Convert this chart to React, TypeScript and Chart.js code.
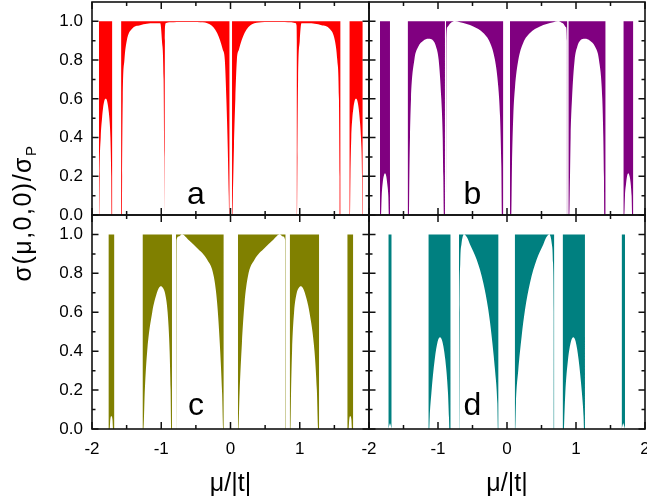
import React, { useEffect, useRef } from 'react';
import { Chart, registerables } from 'chart.js';
Chart.register(...registerables);

const W = 647;
const H = 503;
const FONT = '"Liberation Sans", Arial, sans-serif';

// ---------- data (lower boundary of the filled region; filled up to 1.0) ----------
const aMu = [
  -1.900, -1.893, -1.889, -1.874, -1.855, -1.841, -1.822, -1.802, -1.783, -1.764, -1.749, -1.734, -1.722, -1.716, -1.706,
  -1.65,
  -1.580, -1.568, -1.565, -1.556, -1.532, -1.498, -1.425, -1.305, -1.111, -1.014, -0.990, -0.966, -0.957, -0.953, -0.950,
  -0.947, -0.943, -0.935, -0.870, -0.773, -0.531, -0.435, -0.300, -0.193, -0.111, -0.082, -0.060, -0.040, -0.025, -0.018, -0.012,
  0.005,
  0.022, 0.028, 0.035, 0.050, 0.070, 0.092, 0.121, 0.203, 0.310, 0.445, 0.541, 0.783, 0.880, 0.945, 0.953, 0.957,
  0.960, 0.963, 0.967, 0.976, 1.000, 1.024, 1.121, 1.315, 1.435, 1.508, 1.542, 1.566, 1.575, 1.578, 1.590,
  1.65,
  1.716, 1.726, 1.732, 1.744, 1.759, 1.774, 1.793, 1.812, 1.832, 1.851, 1.865, 1.884, 1.899, 1.903, 1.910,
];
const aSigma = [
  0, 0, 0.2, 0.4, 0.5, 0.55, 0.59, 0.6, 0.59, 0.55, 0.5, 0.4, 0.2, 0, 0,
  null,
  0, 0, 0.2, 0.6, 0.8, 0.9, 0.96, 0.98, 0.99, 0.99, 0.9, 0.7, 0.3, 0, 0,
  0.9, 0.98, 0.99, 0.995, 0.997, 0.997, 0.996, 0.985, 0.94, 0.854, 0.8, 0.6, 0.35, 0.1, 0, 0,
  null,
  0, 0, 0.1, 0.35, 0.6, 0.8, 0.854, 0.94, 0.985, 0.996, 0.997, 0.997, 0.995, 0.99, 0.98, 0.9,
  0, 0, 0.3, 0.7, 0.9, 0.99, 0.99, 0.98, 0.96, 0.9, 0.8, 0.6, 0.2, 0, 0,
  null,
  0, 0, 0.2, 0.4, 0.5, 0.55, 0.59, 0.6, 0.59, 0.55, 0.5, 0.4, 0.2, 0, 0,
];

const bMu = [
  -1.841, -1.826, -1.816, -1.800, -1.787, -1.768, -1.750, -1.735, -1.720, -1.710, -1.696,
  -1.55,
  -1.440, -1.420, -1.415, -1.406, -1.391, -1.343, -1.285, -1.213, -1.140, -1.068, -1.029, -0.990, -0.952, -0.932, -0.923, -0.913, -0.899,
  -0.89,
  -0.885, -0.881, -0.878, -0.865, -0.820, -0.754, -0.681, -0.488, -0.343, -0.246, -0.174, -0.126, -0.101, -0.082, -0.072, -0.053,
  -0.005,
  0.043, 0.062, 0.072, 0.091, 0.116, 0.164, 0.236, 0.333, 0.478, 0.671, 0.744, 0.810, 0.855, 0.868, 0.871, 0.875,
  0.88,
  0.889, 0.903, 0.913, 0.922, 0.942, 0.980, 1.019, 1.058, 1.130, 1.203, 1.275, 1.333, 1.381, 1.396, 1.405, 1.410, 1.430,
  1.55,
  1.686, 1.700, 1.710, 1.725, 1.740, 1.758, 1.777, 1.790, 1.806, 1.816, 1.831,
];
const bSigma = [
  0, 0, 0.1, 0.17, 0.2, 0.215, 0.2, 0.16, 0.1, 0, 0,
  null,
  0, 0, 0.2, 0.4, 0.6, 0.8, 0.87, 0.9, 0.91, 0.9, 0.87, 0.8, 0.6, 0.4, 0.2, 0, 0,
  null,
  0, 0, 0.9, 0.97, 0.99, 1.0, 0.995, 0.974, 0.94, 0.89, 0.80, 0.66, 0.51, 0.25, 0, 0,
  null,
  0, 0, 0.25, 0.51, 0.66, 0.80, 0.89, 0.94, 0.974, 0.995, 1.0, 0.99, 0.97, 0.9, 0, 0,
  null,
  0, 0, 0.2, 0.4, 0.6, 0.8, 0.87, 0.9, 0.91, 0.9, 0.87, 0.8, 0.6, 0.4, 0.2, 0, 0,
  null,
  0, 0, 0.1, 0.16, 0.2, 0.215, 0.2, 0.17, 0.1, 0, 0,
];

const cMu = [
  -1.763, -1.745, -1.735, -1.720, -1.705, -1.695, -1.676,
  -1.5,
  -1.271, -1.256, -1.237, -1.203, -1.130, -1.063, -1.035, -1.005, -0.975, -0.947, -0.908, -0.879, -0.865, -0.855, -0.845,
  -0.82,
  -0.787, -0.782, -0.779, -0.750, -0.700, -0.600, -0.483, -0.338, -0.242, -0.193, -0.155, -0.121, -0.106, -0.097,
  0.005,
  0.107, 0.116, 0.131, 0.165, 0.203, 0.252, 0.348, 0.493, 0.610, 0.710, 0.760, 0.789, 0.792, 0.797,
  0.83,
  0.855, 0.865, 0.875, 0.889, 0.918, 0.957, 0.985, 1.015, 1.045, 1.073, 1.140, 1.213, 1.247, 1.266, 1.281,
  1.5,
  1.686, 1.705, 1.715, 1.730, 1.745, 1.755, 1.773,
];
const cSigma = [
  0, 0, 0.05, 0.065, 0.05, 0, 0,
  null,
  0, 0, 0.2, 0.4, 0.6, 0.7, 0.725, 0.734, 0.725, 0.7, 0.6, 0.4, 0.2, 0, 0,
  null,
  0, 0, 0.97, 0.99, 1.0, 0.97, 0.931, 0.871, 0.785, 0.648, 0.442, 0.184, 0, 0,
  null,
  0, 0, 0.184, 0.442, 0.648, 0.785, 0.871, 0.931, 0.97, 1.0, 0.99, 0.97, 0, 0,
  null,
  0, 0, 0.2, 0.4, 0.6, 0.7, 0.725, 0.734, 0.725, 0.7, 0.6, 0.4, 0.2, 0, 0,
  null,
  0, 0, 0.05, 0.065, 0.05, 0, 0,
];

const dMu = [
  -1.720, -1.705, -1.696, -1.686, -1.671,
  -1.4,
  -1.140, -1.126, -1.120, -1.096, -1.048, -1.005, -0.971, -0.937, -0.894, -0.855, -0.841, -0.834, -0.816,
  -0.75,
  -0.696, -0.690, -0.686, -0.678, -0.660, -0.623, -0.580, -0.536, -0.440, -0.343, -0.271, -0.222, -0.174, -0.140, -0.130, -0.122,
  -0.005,
  0.112, 0.120, 0.130, 0.164, 0.212, 0.261, 0.333, 0.430, 0.526, 0.570, 0.613, 0.650, 0.668, 0.676, 0.680, 0.686,
  0.75,
  0.806, 0.824, 0.831, 0.845, 0.884, 0.927, 0.961, 0.995, 1.038, 1.086, 1.110, 1.116, 1.130,
  1.4,
  1.661, 1.676, 1.686, 1.695, 1.710,
];
const dSigma = [
  0, 0.02, 0.03, 0.02, 0,
  null,
  0, 0, 0.06, 0.184, 0.356, 0.45, 0.471, 0.45, 0.356, 0.184, 0.06, 0, 0,
  null,
  0, 0, 0.6, 0.85, 0.95, 1.0, 0.985, 0.948, 0.871, 0.751, 0.613, 0.476, 0.304, 0.132, 0, 0,
  null,
  0, 0, 0.132, 0.304, 0.476, 0.613, 0.751, 0.871, 0.948, 0.985, 1.0, 0.95, 0.85, 0.6, 0, 0,
  null,
  0, 0, 0.06, 0.184, 0.356, 0.45, 0.471, 0.45, 0.356, 0.184, 0.06, 0, 0,
  null,
  0, 0.02, 0.03, 0.02, 0,
];

const xTickValues = [-2, -1, 0, 1, 2];
const xMinorValues = [-1.5, -0.5, 0.5, 1.5];
const xLabelsLeft = ['-2', '-1', '0', '1', ''];
const xLabelsRight = ['-2', '-1', '0', '1', '2'];
const yTickValues = [0, 0.2, 0.4, 0.6, 0.8, 1.0];
const yTickLabels = ['0.0', '0.2', '0.4', '0.6', '0.8', '1.0'];
const yMinorValues = [0.1, 0.3, 0.5, 0.7, 0.9];
const panelLetters = ['a', 'b', 'c', 'd'];
const panelColors = ['#ff0000', '#800080', '#808000', '#008080'];
const xTitle = 'μ/|t|';
const yTitleMain = 'σ(μ,0,0)/σ';
const yTitleSub = 'P';

const PANELS = [
  { mu: aMu, sigma: aSigma, left: 92, top: 2, right: 369, bottom: 215, showY: true, xLabels: null, letterY: 0.055, yTitle: true },
  { mu: bMu, sigma: bSigma, left: 369, top: 2, right: 645, bottom: 215, showY: false, xLabels: null, letterY: 0.055, yTitle: false },
  { mu: cMu, sigma: cSigma, left: 92, top: 215, right: 369, bottom: 429, showY: true, xLabels: xLabelsLeft, letterY: 0.07, yTitle: false },
  { mu: dMu, sigma: dSigma, left: 369, top: 215, right: 645, bottom: 429, showY: false, xLabels: xLabelsRight, letterY: 0.07, yTitle: false },
];

const decor = {
  id: 'decor',
  afterDatasetsDraw(chart: any, _args: any, opts: any) {
    const { ctx, chartArea: ca, scales } = chart;
    const x = scales.x;
    const y = scales.y;
    ctx.save();
    ctx.strokeStyle = '#111';
    ctx.lineWidth = 1.6;
    ctx.strokeRect(ca.left, ca.top, ca.right - ca.left, ca.bottom - ca.top);
    ctx.lineWidth = 1.5;
    ctx.beginPath();
    const xt = (vals: number[], len: number) => vals.forEach((v) => {
      const px = x.getPixelForValue(v);
      ctx.moveTo(px, ca.bottom); ctx.lineTo(px, ca.bottom - len);
      ctx.moveTo(px, ca.top); ctx.lineTo(px, ca.top + len);
    });
    const yt = (vals: number[], len: number) => vals.forEach((v) => {
      const py = y.getPixelForValue(v);
      ctx.moveTo(ca.left, py); ctx.lineTo(ca.left + len, py);
      ctx.moveTo(ca.right, py); ctx.lineTo(ca.right - len, py);
    });
    xt(xTickValues, 7);
    xt(xMinorValues, 4);
    yt(yTickValues, 6.5);
    yt(yMinorValues, 3.5);
    ctx.stroke();

    ctx.fillStyle = '#000';
    ctx.font = `32px ${FONT}`;
    ctx.textAlign = 'center';
    ctx.textBaseline = 'alphabetic';
    ctx.fillText(opts.letter, x.getPixelForValue(-0.5), y.getPixelForValue(opts.letterY));

    if (opts.yTitle) {
      const mainFont = `25px ${FONT}`;
      const subFont = `15px ${FONT}`;
      (ctx as any).letterSpacing = '1.5px';
      ctx.font = mainFont;
      const w1 = ctx.measureText(yTitleMain).width;
      ctx.font = subFont;
      const w2 = ctx.measureText(yTitleSub).width;
      ctx.translate(31, 213);
      ctx.rotate(-Math.PI / 2);
      ctx.textAlign = 'left';
      const start = -(w1 + w2) / 2;
      ctx.font = mainFont;
      ctx.fillText(yTitleMain, start, 0);
      ctx.font = subFont;
      ctx.fillText(yTitleSub, start + w1, 5);
      (ctx as any).letterSpacing = '0px';
    }
    ctx.restore();
  },
};

function makeChart(canvas: HTMLCanvasElement, p: any, i: number) {
  const showX = !!p.xLabels;
  return new Chart(canvas, {
    type: 'line',
    data: {
      datasets: [{
        data: p.mu.map((m: number, k: number) => ({ x: m, y: p.sigma[k] })),
        fill: { value: 1 },
        backgroundColor: panelColors[i],
        borderColor: panelColors[i],
        borderWidth: 0,
        pointRadius: 0,
        spanGaps: false,
        cubicInterpolationMode: 'monotone',
      }],
    },
    options: {
      animation: false,
      responsive: false,
      devicePixelRatio: 1,
      events: [],
      layout: {
        autoPadding: false,
        padding: { left: 0, top: p.top, right: W - p.right, bottom: showX ? 0 : H - p.bottom },
      },
      plugins: {
        legend: { display: false },
        tooltip: { enabled: false },
        decor: { letter: panelLetters[i], letterY: p.letterY, yTitle: p.yTitle },
      } as any,
      scales: {
        x: {
          type: 'linear', min: -2, max: 2, position: 'bottom',
          grid: { display: false, drawTicks: false },
          border: { display: false },
          ticks: {
            display: showX, autoSkip: false, maxRotation: 0, padding: 10, color: '#000',
            font: { family: FONT, size: 17 },
            callback: (_v: any, k: number) => (p.xLabels ? p.xLabels[k] : ''),
          },
          afterBuildTicks: (s: any) => { s.ticks = xTickValues.map((v) => ({ value: v })); },
          afterFit: (s: any) => { s.height = showX ? H - p.bottom : 0; s.paddingLeft = 0; s.paddingRight = 0; },
          title: { display: showX, text: xTitle, color: '#000', font: { family: FONT, size: 25 }, padding: { top: 0, bottom: 4 } },
        },
        y: {
          type: 'linear', min: 0, max: 1.1, position: 'left',
          grid: { display: false, drawTicks: false },
          border: { display: false },
          ticks: {
            display: p.showY, autoSkip: false, padding: 9, color: '#000',
            font: { family: FONT, size: 17 },
            callback: (_v: any, k: number) => yTickLabels[k],
          },
          afterBuildTicks: (s: any) => { s.ticks = yTickValues.map((v) => ({ value: v })); },
          afterFit: (s: any) => { s.width = p.left; s.paddingTop = 0; s.paddingBottom = 0; },
        },
      },
    } as any,
    plugins: [decor as any],
  });
}

export default function App() {
  const r0 = useRef<HTMLCanvasElement>(null);
  const r1 = useRef<HTMLCanvasElement>(null);
  const r2 = useRef<HTMLCanvasElement>(null);
  const r3 = useRef<HTMLCanvasElement>(null);
  useEffect(() => {
    const refs = [r0, r1, r2, r3];
    const charts = PANELS.map((p, i) => makeChart(refs[i].current as HTMLCanvasElement, p, i));
    return () => charts.forEach((c) => c.destroy());
  }, []);
  const refs = [r0, r1, r2, r3];
  return (
    <div style={{ position: 'absolute', left: 0, top: 0, width: W, height: H, background: '#fff' }}>
      {PANELS.map((_, i) => (
        <canvas key={i} ref={refs[i]} width={W} height={H}
          style={{ position: 'absolute', left: 0, top: 0, width: W, height: H }} />
      ))}
    </div>
  );
}
